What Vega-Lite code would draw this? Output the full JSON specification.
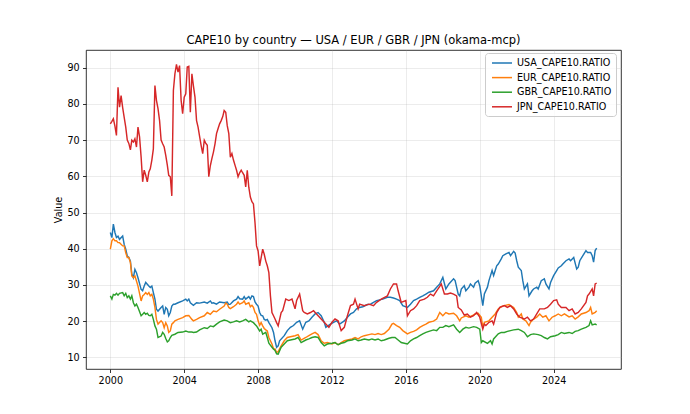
{
  "$schema": "https://vega.github.io/schema/vega-lite/v6.json",
  "autosize": {"type": "none"},
  "padding": {"left": 86, "top": 50, "right": 69, "bottom": 45},
  "width": 535,
  "height": 319,
  "background": "#ffffff",
  "title": {
    "text": "CAPE10 by country — USA / EUR / GBR / JPN (okama-mcp)",
    "font": "DejaVu Sans", "fontSize": 11.5, "fontWeight": "normal", "color": "#000000",
    "anchor": "middle", "offset": 4
  },
  "config": {
    "view": {"stroke": "#000000", "strokeWidth": 0.8},
    "axis": {
      "domain": false, "grid": true, "gridColor": "#b0b0b0", "gridOpacity": 0.3, "gridWidth": 0.8,
      "tickColor": "#000000", "tickSize": 3.5, "tickWidth": 0.8,
      "labelFont": "DejaVu Sans", "labelFontSize": 9.6, "labelColor": "#000000", "labelPadding": 3.4,
      "titleFont": "DejaVu Sans", "titleFontSize": 9.6, "titleFontWeight": "normal", "titleColor": "#000000"
    },
    "legend": {
      "title": null,
      "symbolType": "M-2,0H2", "symbolSize": 100, "symbolStrokeWidth": 1.5, "symbolFillColor": "transparent", "symbolOffset": 7,
      "labelFont": "DejaVu Sans", "labelFontSize": 9.6, "labelColor": "#000000", "labelOffset": 9,
      "fillColor": "rgba(255,255,255,0.8)", "strokeColor": "#cccccc", "cornerRadius": 3,
      "padding": 4, "rowPadding": 3.6
    }
  },
  "datasets": {
    "usa": [
      {"d":"2000-01","v":44.5},{"d":"2000-02","v":43.1},{"d":"2000-03","v":46.8},{"d":"2000-04","v":44.5},{"d":"2000-05","v":43.1},{"d":"2000-06","v":43.5},{"d":"2000-07","v":42.6},{"d":"2000-09","v":43.5},{"d":"2000-10","v":41.2},{"d":"2000-11","v":39.9},{"d":"2000-12","v":38.0},
      {"d":"2001-01","v":37.6},{"d":"2001-02","v":36.6},{"d":"2001-03","v":33.0},{"d":"2001-04","v":32.0},{"d":"2001-05","v":34.3},{"d":"2001-06","v":33.4},{"d":"2001-07","v":32.0},{"d":"2001-09","v":28.8},{"d":"2001-10","v":28.4},{"d":"2001-11","v":29.7},{"d":"2001-12","v":30.7},
      {"d":"2002-01","v":30.2},{"d":"2002-02","v":29.7},{"d":"2002-03","v":29.3},{"d":"2002-04","v":29.7},{"d":"2002-05","v":27.9},{"d":"2002-06","v":26.1},{"d":"2002-07","v":23.3},{"d":"2002-08","v":22.8},{"d":"2002-10","v":23.8},{"d":"2002-11","v":24.2},{"d":"2002-12","v":21.9},
      {"d":"2003-01","v":23.8},{"d":"2003-02","v":23.3},{"d":"2003-03","v":21.5},{"d":"2003-04","v":22.4},{"d":"2003-05","v":24.2},{"d":"2003-06","v":24.7},{"d":"2003-07","v":24.7},{"d":"2003-09","v":25.1},{"d":"2003-12","v":25.6},
      {"d":"2004-02","v":26.1},{"d":"2004-03","v":25.6},{"d":"2004-04","v":26.1},{"d":"2004-05","v":25.1},{"d":"2004-07","v":24.4},{"d":"2004-09","v":25.1},{"d":"2004-11","v":25.0},
      {"d":"2005-02","v":25.3},{"d":"2005-04","v":25.0},{"d":"2005-06","v":25.6},{"d":"2005-07","v":25.0},{"d":"2005-08","v":25.1},{"d":"2005-10","v":24.7},{"d":"2005-12","v":25.3},
      {"d":"2006-03","v":25.1},{"d":"2006-05","v":25.3},{"d":"2006-06","v":24.6},{"d":"2006-07","v":24.7},{"d":"2006-09","v":25.6},{"d":"2006-11","v":26.1},{"d":"2006-12","v":26.8},
      {"d":"2007-01","v":26.2},{"d":"2007-03","v":26.1},{"d":"2007-04","v":26.8},{"d":"2007-05","v":26.1},{"d":"2007-07","v":26.8},{"d":"2007-08","v":26.1},{"d":"2007-09","v":27.0},{"d":"2007-10","v":26.8},{"d":"2007-11","v":25.3},{"d":"2007-12","v":24.7},
      {"d":"2008-01","v":24.2},{"d":"2008-02","v":22.4},{"d":"2008-03","v":21.6},{"d":"2008-04","v":21.5},{"d":"2008-05","v":20.5},{"d":"2008-06","v":20.3},{"d":"2008-07","v":20.5},{"d":"2008-08","v":19.6},{"d":"2008-10","v":18.2},{"d":"2008-11","v":16.9},{"d":"2008-12","v":14.6},
      {"d":"2009-01","v":12.8},{"d":"2009-02","v":13.2},{"d":"2009-03","v":14.6},{"d":"2009-06","v":16.0},{"d":"2009-08","v":17.4},{"d":"2009-10","v":18.3},{"d":"2009-12","v":18.8},
      {"d":"2010-02","v":19.7},{"d":"2010-04","v":20.1},{"d":"2010-06","v":17.8},{"d":"2010-08","v":19.7},{"d":"2010-10","v":20.1},{"d":"2010-12","v":21.1},
      {"d":"2011-02","v":22.0},{"d":"2011-04","v":22.4},{"d":"2011-06","v":21.5},{"d":"2011-08","v":19.7},{"d":"2011-09","v":18.3},{"d":"2011-12","v":19.2},
      {"d":"2012-02","v":19.7},{"d":"2012-04","v":20.1},{"d":"2012-06","v":19.2},{"d":"2012-09","v":20.1},{"d":"2012-11","v":21.1},
      {"d":"2013-01","v":22.0},{"d":"2013-03","v":22.4},{"d":"2013-05","v":23.4},{"d":"2013-07","v":23.8},{"d":"2013-09","v":24.0},{"d":"2013-12","v":24.6},
      {"d":"2014-02","v":24.7},{"d":"2014-04","v":25.2},{"d":"2014-06","v":25.7},{"d":"2014-08","v":25.9},{"d":"2014-10","v":26.1},
      {"d":"2015-01","v":26.6},{"d":"2015-03","v":26.6},{"d":"2015-05","v":26.4},{"d":"2015-07","v":26.1},{"d":"2015-09","v":25.7},{"d":"2015-11","v":24.3},
      {"d":"2016-02","v":23.8},{"d":"2016-04","v":24.7},{"d":"2016-06","v":25.7},{"d":"2016-08","v":26.1},{"d":"2016-10","v":26.6},{"d":"2016-12","v":27.0},
      {"d":"2017-02","v":27.5},{"d":"2017-04","v":28.0},{"d":"2017-07","v":28.4},{"d":"2017-09","v":29.4},{"d":"2017-11","v":30.3},
      {"d":"2018-01","v":32.1},{"d":"2018-03","v":28.9},{"d":"2018-05","v":30.3},{"d":"2018-08","v":31.7},{"d":"2018-09","v":31.2},{"d":"2018-11","v":27.5},{"d":"2018-12","v":27.0},
      {"d":"2019-01","v":28.9},{"d":"2019-03","v":29.8},{"d":"2019-04","v":28.4},{"d":"2019-06","v":29.4},{"d":"2019-07","v":30.3},{"d":"2019-09","v":29.4},{"d":"2019-10","v":30.5},{"d":"2019-12","v":31.2},
      {"d":"2020-01","v":29.8},{"d":"2020-03","v":24.3},{"d":"2020-04","v":27.5},{"d":"2020-06","v":29.4},{"d":"2020-07","v":31.2},{"d":"2020-09","v":34.0},{"d":"2020-10","v":32.6},{"d":"2020-12","v":35.3},
      {"d":"2021-01","v":35.8},{"d":"2021-03","v":37.2},{"d":"2021-04","v":38.1},{"d":"2021-06","v":38.6},{"d":"2021-08","v":39.0},{"d":"2021-09","v":38.1},{"d":"2021-11","v":39.3},{"d":"2021-12","v":38.8},
      {"d":"2022-01","v":36.7},{"d":"2022-02","v":34.9},{"d":"2022-04","v":34.0},{"d":"2022-05","v":31.2},{"d":"2022-06","v":28.9},{"d":"2022-08","v":30.3},{"d":"2022-09","v":27.0},{"d":"2022-11","v":28.4},{"d":"2022-12","v":28.9},
      {"d":"2023-02","v":29.4},{"d":"2023-03","v":28.9},{"d":"2023-05","v":31.2},{"d":"2023-07","v":31.7},{"d":"2023-08","v":30.3},{"d":"2023-10","v":28.9},{"d":"2023-11","v":30.7},
      {"d":"2024-01","v":32.6},{"d":"2024-03","v":34.0},{"d":"2024-04","v":34.7},{"d":"2024-06","v":35.3},{"d":"2024-07","v":35.8},{"d":"2024-09","v":36.7},{"d":"2024-11","v":37.2},{"d":"2024-12","v":36.7},
      {"d":"2025-02","v":37.6},{"d":"2025-04","v":34.4},{"d":"2025-05","v":34.9},{"d":"2025-06","v":36.7},{"d":"2025-08","v":38.1},{"d":"2025-10","v":39.5},{"d":"2025-11","v":39.0},
      {"d":"2026-01","v":39.0},{"d":"2026-02","v":38.1},{"d":"2026-03","v":36.3},{"d":"2026-04","v":39.5},{"d":"2026-05","v":40.2}
    ],
    "eur": [
      {"d":"2000-01","v":39.9},{"d":"2000-02","v":42.2},{"d":"2000-03","v":42.8},{"d":"2000-04","v":42.2},{"d":"2000-05","v":42.2},{"d":"2000-06","v":41.7},{"d":"2000-07","v":41.7},{"d":"2000-09","v":40.8},{"d":"2000-10","v":40.8},{"d":"2000-11","v":38.9},{"d":"2000-12","v":37.6},
      {"d":"2001-01","v":37.6},{"d":"2001-02","v":36.2},{"d":"2001-03","v":32.5},{"d":"2001-04","v":32.0},{"d":"2001-05","v":32.5},{"d":"2001-06","v":31.1},{"d":"2001-07","v":29.7},{"d":"2001-09","v":25.6},{"d":"2001-10","v":27.0},{"d":"2001-11","v":27.4},{"d":"2001-12","v":27.9},
      {"d":"2002-01","v":27.4},{"d":"2002-02","v":27.9},{"d":"2002-03","v":27.0},{"d":"2002-04","v":27.4},{"d":"2002-05","v":26.1},{"d":"2002-06","v":23.8},{"d":"2002-07","v":20.5},{"d":"2002-08","v":19.2},{"d":"2002-10","v":20.1},{"d":"2002-11","v":19.6},{"d":"2002-12","v":18.2},
      {"d":"2003-01","v":19.6},{"d":"2003-02","v":18.7},{"d":"2003-03","v":16.9},{"d":"2003-04","v":17.3},{"d":"2003-05","v":19.2},{"d":"2003-06","v":19.6},{"d":"2003-07","v":20.1},{"d":"2003-09","v":20.5},{"d":"2003-12","v":21.0},
      {"d":"2004-02","v":21.5},{"d":"2004-04","v":21.6},{"d":"2004-06","v":20.5},{"d":"2004-07","v":20.1},{"d":"2004-09","v":20.5},{"d":"2004-11","v":21.0},
      {"d":"2005-02","v":21.5},{"d":"2005-04","v":22.4},{"d":"2005-06","v":21.9},{"d":"2005-08","v":22.8},{"d":"2005-10","v":22.6},{"d":"2005-12","v":23.3},
      {"d":"2006-03","v":24.2},{"d":"2006-04","v":25.0},{"d":"2006-05","v":24.7},{"d":"2006-06","v":23.8},{"d":"2006-07","v":23.5},{"d":"2006-09","v":24.0},{"d":"2006-11","v":24.7},{"d":"2006-12","v":25.3},
      {"d":"2007-01","v":24.7},{"d":"2007-03","v":25.1},{"d":"2007-04","v":25.6},{"d":"2007-05","v":24.7},{"d":"2007-07","v":25.1},{"d":"2007-08","v":24.0},{"d":"2007-09","v":24.4},{"d":"2007-10","v":23.8},{"d":"2007-11","v":22.4},{"d":"2007-12","v":21.9},
      {"d":"2008-01","v":20.1},{"d":"2008-02","v":18.9},{"d":"2008-03","v":19.6},{"d":"2008-04","v":18.7},{"d":"2008-05","v":18.0},{"d":"2008-06","v":17.6},{"d":"2008-07","v":17.3},{"d":"2008-08","v":15.5},{"d":"2008-10","v":13.7},{"d":"2008-11","v":12.3},{"d":"2008-12","v":12.3},
      {"d":"2009-01","v":11.4},{"d":"2009-02","v":11.6},{"d":"2009-04","v":13.2},{"d":"2009-06","v":14.6},{"d":"2009-08","v":15.5},{"d":"2009-10","v":15.7},
      {"d":"2010-01","v":16.0},{"d":"2010-03","v":16.3},{"d":"2010-05","v":14.8},{"d":"2010-08","v":15.5},{"d":"2010-10","v":16.0},{"d":"2010-12","v":16.5},
      {"d":"2011-02","v":16.9},{"d":"2011-04","v":16.3},{"d":"2011-06","v":14.6},{"d":"2011-08","v":13.9},{"d":"2011-10","v":14.1},
      {"d":"2012-01","v":13.7},{"d":"2012-03","v":14.1},{"d":"2012-05","v":13.5},{"d":"2012-07","v":14.1},{"d":"2012-09","v":14.6},{"d":"2012-11","v":14.8},
      {"d":"2013-02","v":15.1},{"d":"2013-04","v":15.5},{"d":"2013-06","v":15.1},{"d":"2013-08","v":15.7},{"d":"2013-10","v":16.0},
      {"d":"2014-01","v":16.3},{"d":"2014-03","v":16.5},{"d":"2014-05","v":16.3},{"d":"2014-07","v":16.6},{"d":"2014-09","v":16.3},{"d":"2014-11","v":16.6},
      {"d":"2015-02","v":17.8},{"d":"2015-04","v":19.2},{"d":"2015-05","v":19.4},{"d":"2015-07","v":18.8},{"d":"2015-09","v":18.3},{"d":"2015-11","v":17.4},
      {"d":"2016-02","v":16.5},{"d":"2016-04","v":16.9},{"d":"2016-06","v":17.2},{"d":"2016-08","v":17.6},{"d":"2016-10","v":18.3},{"d":"2016-12","v":18.8},
      {"d":"2017-02","v":19.2},{"d":"2017-04","v":19.7},{"d":"2017-07","v":20.0},{"d":"2017-09","v":20.6},{"d":"2017-11","v":22.4},
      {"d":"2018-01","v":21.5},{"d":"2018-03","v":22.4},{"d":"2018-05","v":22.0},{"d":"2018-08","v":22.2},{"d":"2018-10","v":21.5},{"d":"2018-12","v":20.1},
      {"d":"2019-01","v":20.9},{"d":"2019-04","v":21.5},{"d":"2019-06","v":21.1},{"d":"2019-08","v":21.5},{"d":"2019-10","v":22.0},{"d":"2019-12","v":22.2},
      {"d":"2020-02","v":21.1},{"d":"2020-03","v":18.3},{"d":"2020-04","v":19.7},{"d":"2020-07","v":20.1},{"d":"2020-09","v":21.1},{"d":"2020-11","v":22.0},
      {"d":"2021-01","v":23.4},{"d":"2021-03","v":24.0},{"d":"2021-05","v":24.3},{"d":"2021-08","v":24.6},{"d":"2021-09","v":24.3},{"d":"2021-11","v":23.8},
      {"d":"2022-01","v":22.4},{"d":"2022-02","v":21.1},{"d":"2022-04","v":22.0},{"d":"2022-05","v":20.6},{"d":"2022-07","v":20.1},{"d":"2022-09","v":18.8},{"d":"2022-10","v":19.7},{"d":"2022-12","v":20.6},
      {"d":"2023-02","v":21.1},{"d":"2023-04","v":22.0},{"d":"2023-06","v":21.1},{"d":"2023-08","v":21.5},{"d":"2023-10","v":20.1},{"d":"2023-12","v":21.1},
      {"d":"2024-02","v":21.5},{"d":"2024-04","v":22.0},{"d":"2024-06","v":21.5},{"d":"2024-08","v":22.0},{"d":"2024-11","v":21.2},
      {"d":"2025-01","v":21.5},{"d":"2025-03","v":20.6},{"d":"2025-05","v":21.2},{"d":"2025-07","v":22.0},{"d":"2025-10","v":22.4},{"d":"2025-12","v":22.9},
      {"d":"2026-01","v":23.8},{"d":"2026-02","v":22.0},{"d":"2026-04","v":22.4},{"d":"2026-05","v":22.9}
    ],
    "gbr": [
      {"d":"2000-01","v":27.0},{"d":"2000-02","v":26.1},{"d":"2000-03","v":27.4},{"d":"2000-04","v":27.2},{"d":"2000-05","v":27.7},{"d":"2000-06","v":27.2},{"d":"2000-07","v":27.7},{"d":"2000-09","v":27.9},{"d":"2000-10","v":27.0},{"d":"2000-11","v":27.7},{"d":"2000-12","v":26.5},
      {"d":"2001-01","v":27.0},{"d":"2001-02","v":26.1},{"d":"2001-03","v":27.0},{"d":"2001-04","v":25.1},{"d":"2001-05","v":24.2},{"d":"2001-06","v":24.7},{"d":"2001-07","v":23.8},{"d":"2001-09","v":21.5},{"d":"2001-10","v":21.9},{"d":"2001-11","v":22.4},{"d":"2001-12","v":21.9},
      {"d":"2002-01","v":22.2},{"d":"2002-02","v":21.6},{"d":"2002-03","v":21.5},{"d":"2002-04","v":21.9},{"d":"2002-05","v":20.5},{"d":"2002-06","v":18.7},{"d":"2002-07","v":17.8},{"d":"2002-08","v":15.5},{"d":"2002-10","v":15.9},{"d":"2002-11","v":16.9},{"d":"2002-12","v":16.4},
      {"d":"2003-01","v":15.2},{"d":"2003-02","v":14.3},{"d":"2003-03","v":14.6},{"d":"2003-04","v":15.5},{"d":"2003-05","v":16.1},{"d":"2003-07","v":16.4},{"d":"2003-09","v":16.9},{"d":"2003-12","v":17.0},
      {"d":"2004-02","v":17.3},{"d":"2004-04","v":17.0},{"d":"2004-06","v":17.0},{"d":"2004-07","v":16.9},{"d":"2004-09","v":17.0},{"d":"2004-11","v":17.6},
      {"d":"2005-02","v":18.2},{"d":"2005-04","v":18.0},{"d":"2005-06","v":18.7},{"d":"2005-08","v":18.5},{"d":"2005-10","v":19.2},{"d":"2005-12","v":19.8},
      {"d":"2006-03","v":20.3},{"d":"2006-05","v":20.1},{"d":"2006-07","v":19.6},{"d":"2006-09","v":19.8},{"d":"2006-11","v":20.1},
      {"d":"2007-01","v":19.8},{"d":"2007-03","v":20.1},{"d":"2007-05","v":20.5},{"d":"2007-07","v":19.8},{"d":"2007-08","v":20.1},{"d":"2007-10","v":19.6},{"d":"2007-12","v":18.7},
      {"d":"2008-02","v":17.3},{"d":"2008-03","v":17.8},{"d":"2008-04","v":16.4},{"d":"2008-06","v":16.9},{"d":"2008-07","v":15.5},{"d":"2008-08","v":13.9},{"d":"2008-10","v":12.8},{"d":"2008-11","v":12.3},{"d":"2008-12","v":11.9},
      {"d":"2009-01","v":11.0},{"d":"2009-02","v":10.9},{"d":"2009-04","v":12.8},{"d":"2009-06","v":13.7},{"d":"2009-08","v":14.6},{"d":"2009-10","v":14.8},
      {"d":"2010-01","v":15.1},{"d":"2010-03","v":15.5},{"d":"2010-05","v":14.1},{"d":"2010-08","v":14.8},{"d":"2010-10","v":15.1},{"d":"2010-12","v":15.5},
      {"d":"2011-02","v":15.7},{"d":"2011-04","v":15.5},{"d":"2011-06","v":14.1},{"d":"2011-08","v":13.2},{"d":"2011-10","v":13.7},
      {"d":"2012-01","v":13.9},{"d":"2012-03","v":14.1},{"d":"2012-05","v":13.5},{"d":"2012-07","v":13.9},{"d":"2012-09","v":14.1},{"d":"2012-11","v":14.6},
      {"d":"2013-02","v":14.8},{"d":"2013-04","v":15.1},{"d":"2013-06","v":14.6},{"d":"2013-08","v":14.8},{"d":"2013-10","v":15.1},
      {"d":"2014-01","v":14.8},{"d":"2014-03","v":15.1},{"d":"2014-05","v":14.8},{"d":"2014-07","v":15.1},{"d":"2014-09","v":14.6},{"d":"2014-11","v":14.8},
      {"d":"2015-02","v":15.3},{"d":"2015-04","v":15.5},{"d":"2015-06","v":15.5},{"d":"2015-08","v":14.8},{"d":"2015-10","v":14.1},{"d":"2015-12","v":13.9},
      {"d":"2016-02","v":13.7},{"d":"2016-04","v":14.6},{"d":"2016-06","v":15.1},{"d":"2016-08","v":15.5},{"d":"2016-10","v":16.0},{"d":"2016-12","v":16.5},
      {"d":"2017-02","v":16.9},{"d":"2017-04","v":17.2},{"d":"2017-07","v":17.6},{"d":"2017-09","v":17.4},{"d":"2017-11","v":18.3},
      {"d":"2018-01","v":18.3},{"d":"2018-03","v":18.8},{"d":"2018-05","v":18.5},{"d":"2018-08","v":19.0},{"d":"2018-10","v":17.8},{"d":"2018-12","v":16.9},
      {"d":"2019-02","v":17.8},{"d":"2019-04","v":18.3},{"d":"2019-06","v":18.1},{"d":"2019-09","v":18.5},{"d":"2019-11","v":18.3},
      {"d":"2020-01","v":17.8},{"d":"2020-02","v":14.1},{"d":"2020-03","v":14.6},{"d":"2020-06","v":13.9},{"d":"2020-08","v":14.6},{"d":"2020-09","v":13.7},{"d":"2020-10","v":15.1},
      {"d":"2021-01","v":16.5},{"d":"2021-03","v":16.9},{"d":"2021-05","v":16.9},{"d":"2021-07","v":17.2},{"d":"2021-09","v":17.4},{"d":"2021-11","v":17.6},
      {"d":"2022-02","v":17.8},{"d":"2022-04","v":17.4},{"d":"2022-06","v":16.9},{"d":"2022-08","v":15.7},{"d":"2022-10","v":16.3},{"d":"2022-12","v":16.5},
      {"d":"2023-03","v":16.3},{"d":"2023-05","v":16.0},{"d":"2023-07","v":15.5},{"d":"2023-09","v":15.1},{"d":"2023-11","v":15.7},
      {"d":"2024-02","v":16.0},{"d":"2024-04","v":16.3},{"d":"2024-06","v":16.9},{"d":"2024-08","v":16.6},{"d":"2024-11","v":16.9},
      {"d":"2025-01","v":16.6},{"d":"2025-03","v":17.2},{"d":"2025-05","v":17.4},{"d":"2025-07","v":17.8},{"d":"2025-10","v":18.3},{"d":"2025-12","v":18.8},
      {"d":"2026-01","v":20.1},{"d":"2026-02","v":19.0},{"d":"2026-04","v":19.2},{"d":"2026-05","v":19.0}
    ],
    "jpn": [
      {"d":"2000-01","v":74.5},{"d":"2000-02","v":75.2},{"d":"2000-03","v":75.9},{"d":"2000-04","v":73.9},{"d":"2000-05","v":71.3},{"d":"2000-06","v":84.6},{"d":"2000-07","v":79.1},{"d":"2000-08","v":82.3},{"d":"2000-09","v":79.0},{"d":"2000-10","v":76.3},{"d":"2000-11","v":73.6},{"d":"2000-12","v":70.0},
      {"d":"2001-01","v":69.1},{"d":"2001-02","v":67.3},{"d":"2001-03","v":70.0},{"d":"2001-04","v":69.5},{"d":"2001-05","v":70.4},{"d":"2001-06","v":68.1},{"d":"2001-07","v":73.6},{"d":"2001-08","v":70.9},{"d":"2001-09","v":65.3},{"d":"2001-10","v":58.5},{"d":"2001-11","v":61.7},{"d":"2001-12","v":60.3},
      {"d":"2002-01","v":58.5},{"d":"2002-02","v":61.2},{"d":"2002-03","v":62.1},{"d":"2002-04","v":64.5},{"d":"2002-05","v":67.6},{"d":"2002-06","v":85.1},{"d":"2002-07","v":81.0},{"d":"2002-08","v":78.7},{"d":"2002-09","v":75.4},{"d":"2002-10","v":70.0},{"d":"2002-11","v":69.0},{"d":"2002-12","v":68.1},
      {"d":"2003-01","v":65.8},{"d":"2003-02","v":63.1},{"d":"2003-03","v":60.3},{"d":"2003-04","v":59.9},{"d":"2003-05","v":54.6},{"d":"2003-06","v":83.7},{"d":"2003-07","v":88.3},{"d":"2003-08","v":90.9},{"d":"2003-09","v":88.8},{"d":"2003-10","v":90.6},{"d":"2003-11","v":81.0},{"d":"2003-12","v":77.3},
      {"d":"2004-01","v":81.9},{"d":"2004-02","v":82.8},{"d":"2004-03","v":90.2},{"d":"2004-04","v":90.4},{"d":"2004-05","v":77.7},{"d":"2004-06","v":88.3},{"d":"2004-07","v":85.0},{"d":"2004-08","v":81.9},{"d":"2004-09","v":75.4},{"d":"2004-10","v":73.6},{"d":"2004-11","v":71.0},{"d":"2004-12","v":68.5},
      {"d":"2005-01","v":66.3},{"d":"2005-02","v":70.0},{"d":"2005-03","v":69.2},{"d":"2005-04","v":68.6},{"d":"2005-05","v":59.9},{"d":"2005-06","v":63.0},{"d":"2005-07","v":64.9},{"d":"2005-08","v":66.7},{"d":"2005-09","v":69.0},{"d":"2005-10","v":71.8},{"d":"2005-11","v":73.2},{"d":"2005-12","v":74.5},
      {"d":"2006-01","v":75.4},{"d":"2006-02","v":76.5},{"d":"2006-03","v":78.2},{"d":"2006-04","v":77.7},{"d":"2006-05","v":74.0},{"d":"2006-06","v":71.8},{"d":"2006-07","v":65.3},{"d":"2006-08","v":66.3},{"d":"2006-09","v":64.5},{"d":"2006-10","v":63.1},{"d":"2006-11","v":61.7},{"d":"2006-12","v":59.9},
      {"d":"2007-01","v":61.0},{"d":"2007-02","v":61.7},{"d":"2007-03","v":61.0},{"d":"2007-04","v":60.3},{"d":"2007-05","v":57.1},{"d":"2007-06","v":61.7},{"d":"2007-07","v":57.0},{"d":"2007-08","v":54.3},{"d":"2007-09","v":53.0},{"d":"2007-10","v":52.4},{"d":"2007-11","v":47.2},{"d":"2007-12","v":40.8},
      {"d":"2008-01","v":39.4},{"d":"2008-02","v":35.3},{"d":"2008-04","v":39.9},{"d":"2008-05","v":38.5},{"d":"2008-06","v":36.6},{"d":"2008-07","v":35.3},{"d":"2008-08","v":33.4},{"d":"2008-09","v":27.0},{"d":"2008-10","v":22.4},{"d":"2008-11","v":21.5},{"d":"2008-12","v":20.6},
      {"d":"2009-01","v":19.6},{"d":"2009-02","v":18.7},{"d":"2009-04","v":22.4},{"d":"2009-05","v":22.9},{"d":"2009-07","v":26.1},{"d":"2009-09","v":25.7},{"d":"2009-11","v":26.1},
      {"d":"2010-01","v":23.4},{"d":"2010-02","v":25.7},{"d":"2010-04","v":27.5},{"d":"2010-06","v":22.9},{"d":"2010-07","v":22.4},{"d":"2010-09","v":22.0},{"d":"2010-11","v":22.4},
      {"d":"2011-01","v":22.9},{"d":"2011-03","v":22.0},{"d":"2011-06","v":20.6},{"d":"2011-09","v":19.2},{"d":"2011-11","v":18.3},
      {"d":"2012-01","v":19.7},{"d":"2012-03","v":20.6},{"d":"2012-05","v":20.1},{"d":"2012-07","v":17.4},{"d":"2012-09","v":18.3},{"d":"2012-11","v":21.5},
      {"d":"2013-01","v":24.3},{"d":"2013-03","v":24.7},{"d":"2013-04","v":26.1},{"d":"2013-06","v":23.4},{"d":"2013-07","v":24.7},{"d":"2013-10","v":24.3},
      {"d":"2014-01","v":24.7},{"d":"2014-04","v":24.3},{"d":"2014-06","v":25.2},{"d":"2014-09","v":26.1},
      {"d":"2015-01","v":27.0},{"d":"2015-03","v":28.9},{"d":"2015-05","v":30.3},{"d":"2015-07","v":30.3},{"d":"2015-08","v":28.4},{"d":"2015-10","v":25.2},
      {"d":"2016-01","v":25.7},{"d":"2016-02","v":21.5},{"d":"2016-04","v":22.9},{"d":"2016-06","v":23.4},{"d":"2016-08","v":24.3},{"d":"2016-10","v":25.7},
      {"d":"2017-01","v":26.1},{"d":"2017-03","v":26.6},{"d":"2017-05","v":27.5},{"d":"2017-07","v":27.0},{"d":"2017-09","v":28.4},{"d":"2017-11","v":29.6},{"d":"2017-12","v":30.3},
      {"d":"2018-02","v":27.5},{"d":"2018-04","v":27.5},{"d":"2018-06","v":27.8},{"d":"2018-08","v":27.5},{"d":"2018-10","v":27.0},{"d":"2018-11","v":23.8},
      {"d":"2019-01","v":23.1},{"d":"2019-03","v":21.7},{"d":"2019-05","v":22.0},{"d":"2019-07","v":21.1},{"d":"2019-09","v":21.5},{"d":"2019-11","v":22.4},
      {"d":"2020-01","v":21.1},{"d":"2020-03","v":17.8},{"d":"2020-04","v":19.2},{"d":"2020-05","v":18.8},{"d":"2020-07","v":19.7},{"d":"2020-09","v":20.1},{"d":"2020-10","v":19.2},{"d":"2020-12","v":22.4},
      {"d":"2021-02","v":23.8},{"d":"2021-05","v":24.3},{"d":"2021-07","v":23.8},{"d":"2021-09","v":24.3},{"d":"2021-11","v":23.4},
      {"d":"2022-01","v":22.0},{"d":"2022-03","v":21.1},{"d":"2022-06","v":20.6},{"d":"2022-08","v":21.1},{"d":"2022-10","v":20.1},{"d":"2022-12","v":20.6},
      {"d":"2023-02","v":22.0},{"d":"2023-04","v":23.4},{"d":"2023-07","v":23.4},{"d":"2023-09","v":23.8},{"d":"2023-11","v":24.7},
      {"d":"2024-01","v":25.7},{"d":"2024-03","v":25.9},{"d":"2024-04","v":24.7},{"d":"2024-06","v":23.8},{"d":"2024-09","v":23.8},{"d":"2024-11","v":22.9},
      {"d":"2025-01","v":23.4},{"d":"2025-03","v":22.0},{"d":"2025-05","v":22.4},{"d":"2025-07","v":23.4},{"d":"2025-10","v":25.2},{"d":"2025-11","v":27.0},{"d":"2025-12","v":27.5},
      {"d":"2026-02","v":28.9},{"d":"2026-03","v":27.0},{"d":"2026-04","v":30.3},{"d":"2026-05","v":30.5}
    ]
  },
  "encoding": {
    "x": {
      "field": "d", "type": "temporal", "title": null,
      "scale": {"type": "utc", "domain": [{"year": 1998, "month": 9, "date": 7, "utc": true}, {"year": 2027, "month": 8, "date": 25, "utc": true}], "nice": false},
      "axis": {
        "format": "%Y", "labelFlush": false,
        "values": [
          {"year": 2000, "utc": true}, {"year": 2004, "utc": true}, {"year": 2008, "utc": true}, {"year": 2012, "utc": true},
          {"year": 2016, "utc": true}, {"year": 2020, "utc": true}, {"year": 2024, "utc": true}
        ]
      }
    },
    "y": {
      "field": "v", "type": "quantitative", "title": "Value",
      "scale": {"domain": [6.8, 94.9], "nice": false, "zero": false},
      "axis": {"values": [10, 20, 30, 40, 50, 60, 70, 80, 90], "titlePadding": 3}
    }
  },
  "layer": [
    {
      "data": {"name": "usa"},
      "mark": {"type": "line", "strokeWidth": 1.44, "interpolate": "linear"},
      "encoding": {
        "color": {
          "datum": "USA_CAPE10.RATIO", "type": "nominal",
          "scale": {
            "domain": ["USA_CAPE10.RATIO", "EUR_CAPE10.RATIO", "GBR_CAPE10.RATIO", "JPN_CAPE10.RATIO"],
            "range": ["#1f77b4", "#ff7f0e", "#2ca02c", "#d62728"]
          },
          "legend": {"orient": "none", "legendX": 399, "legendY": 3}
        }
      }
    },
    {
      "data": {"name": "eur"},
      "mark": {"type": "line", "strokeWidth": 1.44, "interpolate": "linear"},
      "encoding": {"color": {"datum": "EUR_CAPE10.RATIO", "type": "nominal"}}
    },
    {
      "data": {"name": "gbr"},
      "mark": {"type": "line", "strokeWidth": 1.44, "interpolate": "linear"},
      "encoding": {"color": {"datum": "GBR_CAPE10.RATIO", "type": "nominal"}}
    },
    {
      "data": {"name": "jpn"},
      "mark": {"type": "line", "strokeWidth": 1.44, "interpolate": "linear"},
      "encoding": {"color": {"datum": "JPN_CAPE10.RATIO", "type": "nominal"}}
    }
  ]
}
